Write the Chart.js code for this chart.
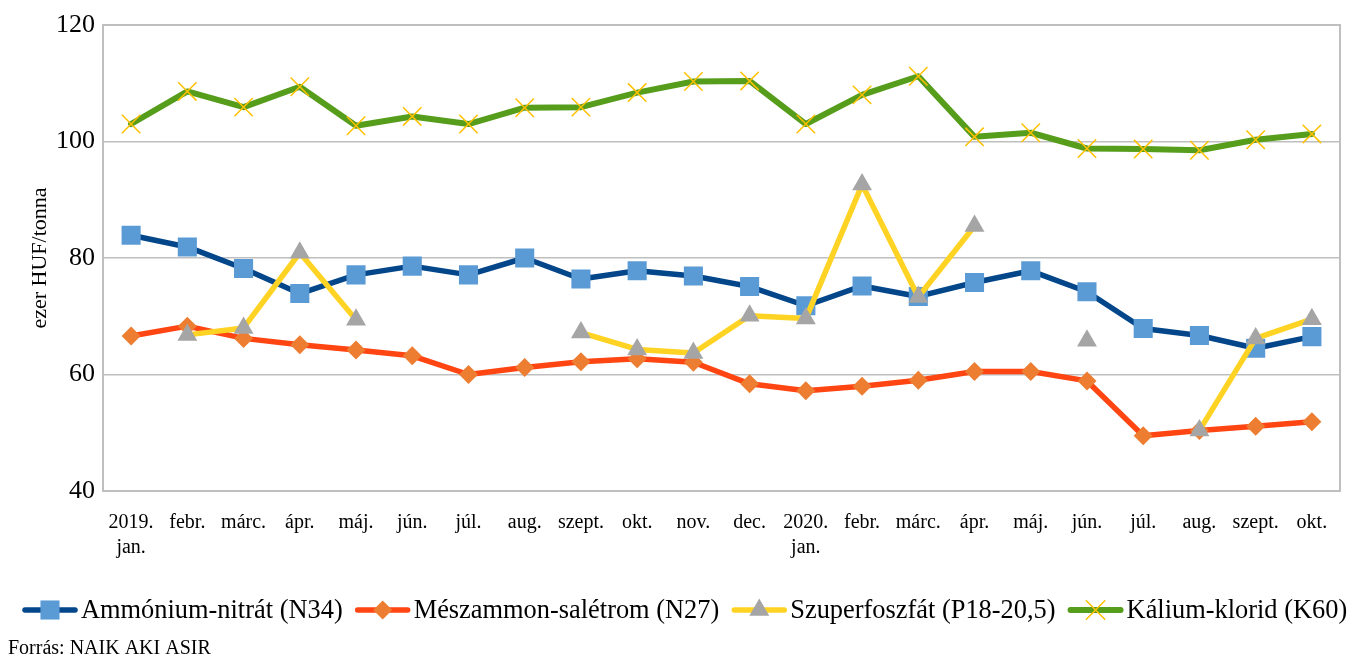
<!DOCTYPE html>
<html>
<head>
<meta charset="utf-8">
<script src="https://cdn.jsdelivr.net/npm/chart.js@4/dist/chart.umd.min.js"></script>
<style>
html,body{margin:0;padding:0;background:#fff;}
#wrap{width:1362px;height:659px;position:relative;}
</style>
</head>
<body>
<div id="wrap"><canvas id="c" width="1362" height="659"></canvas></div>
<script>
const categories = [["2019.","jan."],"febr.","márc.","ápr.","máj.","jún.","júl.","aug.","szept.","okt.","nov.","dec.",["2020.","jan."],"febr.","márc.","ápr.","máj.","jún.","júl.","aug.","szept.","okt."];
const ammoniumNitrat = [83.9,81.9,78.2,73.9,77.1,78.6,77.1,80.0,76.4,77.8,76.9,75.1,71.8,75.2,73.4,75.8,77.8,74.2,67.9,66.7,64.5,66.5];
const meszammonSaletrom = [66.6,68.3,66.2,65.1,64.2,63.2,60.0,61.2,62.2,62.7,62.1,58.4,57.2,58.0,59.0,60.5,60.5,58.9,49.5,50.4,51.1,51.9];
const szuperfoszfat = [null,66.8,68.0,80.9,69.4,null,null,null,67.2,64.3,63.7,70.1,69.6,92.6,73.3,85.5,null,65.8,null,50.4,66.2,69.5];
const kaliumKlorid = [103.0,108.6,105.9,109.4,102.7,104.3,103.0,105.8,105.9,108.4,110.3,110.4,103.0,108.0,111.2,100.8,101.5,98.8,98.7,98.5,100.3,101.3];
const seriesNames = ["Ammónium-nitrát (N34)","Mészammon-salétrom (N27)","Szuperfoszfát (P18-20,5)","Kálium-klorid (K60)"];
const yTicks = [40,60,80,100,120];
const yTitle = "ezer HUF/tonna";
const sourceText = "Forrás: NAIK AKI ASIR";

const FONT = "'Liberation Serif','Times New Roman',serif";

const styles = [
  {line:'#04468A', fill:'#5B9BD5', stroke:'#5B9BD5', shape:'rect', r:13.5, lw:5.5},
  {line:'#FF4612', fill:'#ED7D31', stroke:'#ED7D31', shape:'rectRot', r:9.5, lw:5.5},
  {line:'#FFD324', fill:'#A5A5A5', stroke:'#A5A5A5', shape:'triangle', r:11.5, lw:5.5},
  {line:'#579D1C', fill:'rgba(0,0,0,0)', stroke:'#FFC000', shape:'crossRot', r:13, lw:6}
];
const dataArr = [ammoniumNitrat, meszammonSaletrom, szuperfoszfat, kaliumKlorid];

function drawMarker(ctx, shape, x, y, r, fill, stroke){
  ctx.save();
  ctx.beginPath();
  if(shape==='rect'){
    const s = r*Math.SQRT1_2;
    ctx.fillStyle=fill; ctx.fillRect(x-s,y-s,2*s,2*s);
  } else if(shape==='rectRot'){
    ctx.moveTo(x-r,y);ctx.lineTo(x,y-r);ctx.lineTo(x+r,y);ctx.lineTo(x,y+r);ctx.closePath();
    ctx.fillStyle=fill; ctx.fill();
  } else if(shape==='triangle'){
    for(let i=0;i<3;i++){const a=i*2*Math.PI/3;const px=x+Math.sin(a)*r, py=y-Math.cos(a)*r; if(i===0)ctx.moveTo(px,py);else ctx.lineTo(px,py);}
    ctx.closePath(); ctx.fillStyle=fill; ctx.fill();
  } else if(shape==='crossRot'){
    const s=r*Math.SQRT1_2;
    ctx.moveTo(x-s,y-s);ctx.lineTo(x+s,y+s);ctx.moveTo(x+s,y-s);ctx.lineTo(x-s,y+s);
    ctx.strokeStyle=stroke; ctx.lineWidth=1.5; ctx.stroke();
  }
  ctx.restore();
}

const frame = {
  id:'frame',
  beforeDatasetsDraw(chart){
    const {ctx, chartArea:a} = chart;
    ctx.save();
    ctx.strokeStyle='#BFBFBF'; ctx.lineWidth=2;
    ctx.strokeRect(a.left, a.top, a.right-a.left, a.bottom-a.top);
    ctx.restore();
  },
  afterDraw(chart){
    const ctx = chart.ctx;
    ctx.save();
    ctx.font = "26.4px " + FONT;
    ctx.textBaseline='middle';
    ctx.fillStyle='#000';
    let x = 22; const y = 610;
    chart.data.datasets.forEach((ds,i)=>{
      const st = styles[i];
      ctx.beginPath(); ctx.lineCap='round';
      ctx.strokeStyle=st.line; ctx.lineWidth=st.lw;
      ctx.moveTo(x+3,y); ctx.lineTo(x+53,y); ctx.stroke();
      drawMarker(ctx, st.shape, x+28, y, st.r, st.fill, st.stroke);
      ctx.fillStyle='#000';
      ctx.textAlign='left';
      ctx.fillText(ds.label, x+59, y+1);
      x += 59 + ctx.measureText(ds.label).width + 12;
    });
    ctx.font = "20px " + FONT;
    ctx.fillText(sourceText, 8, 649);
    ctx.restore();
  }
};

const datasets = dataArr.map((d,i)=>({
  label: seriesNames[i],
  data: d,
  borderColor: styles[i].line,
  backgroundColor: styles[i].fill,
  pointBackgroundColor: styles[i].fill,
  pointBorderColor: styles[i].stroke,
  pointBorderWidth: styles[i].shape==='crossRot'?1.5:0,
  pointStyle: styles[i].shape,
  pointRadius: styles[i].r,
  pointHoverRadius: styles[i].r,
  borderWidth: styles[i].lw,
  borderJoinStyle:'round',
  borderCapStyle:'round',
  tension: 0,
  spanGaps: false,
  order: 4-i
}));

new Chart(document.getElementById('c'), {
  type:'line',
  data:{labels:categories, datasets},
  options:{
    responsive:false,
    animation:false,
    layout:{padding:{left:0,right:22,top:25,bottom:0}},
    plugins:{legend:{display:false}, tooltip:{enabled:false}},
    scales:{
      x:{
        offset:true,
        grid:{display:false, drawTicks:false},
        border:{display:true,color:'#BFBFBF',width:2},
        ticks:{autoSkip:false,maxRotation:0,minRotation:0,padding:19,color:'#000',
          font:{family:FONT,size:20,lineHeight:1.25}},
        afterFit(s){ s.height = 168; }
      },
      y:{
        min:40,max:120,
        afterBuildTicks(s){ s.ticks = yTicks.map(v=>({value:v})); },
        grid:{color:'#BFBFBF', lineWidth:1.5, drawTicks:false},
        border:{display:true,color:'#BFBFBF',width:2},
        ticks:{padding:8,color:'#000',font:{family:FONT,size:26}},
        title:{display:true,text:yTitle,color:'#000',font:{family:FONT,size:22},padding:{top:27,bottom:0}},
        afterFit(s){ s.width = 103; }
      }
    }
  },
  plugins:[frame]
});
</script>
</body>
</html>
